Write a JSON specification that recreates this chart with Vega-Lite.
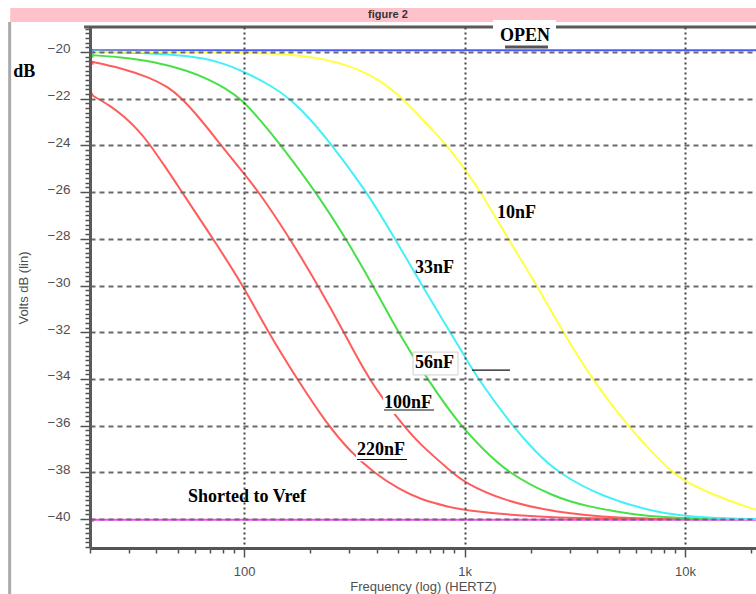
{
  "$schema": "https://vega.github.io/schema/vega-lite/v6.json",
  "width": 666,
  "height": 521,
  "autosize": {"type": "none"},
  "padding": {"left": 90, "top": 27, "right": 0, "bottom": 46},
  "background": "white",
  "config": {"view": {"stroke": null}},
  "datasets": {
    "curves": [
      {"series": "OPEN", "f": 20, "db": -19.93},
      {"series": "OPEN", "f": 21000, "db": -19.93},
      {"series": "Shorted", "f": 20, "db": -40.03},
      {"series": "Shorted", "f": 21000, "db": -40.03},
      {"series": "220nF", "f": 20, "db": -21.8},
      {"series": "220nF", "f": 24.7, "db": -22.3},
      {"series": "220nF", "f": 28.9, "db": -22.8},
      {"series": "220nF", "f": 33.1, "db": -23.35},
      {"series": "220nF", "f": 36.3, "db": -23.8},
      {"series": "220nF", "f": 43.8, "db": -24.9},
      {"series": "220nF", "f": 52.3, "db": -26.0},
      {"series": "220nF", "f": 72.3, "db": -28.0},
      {"series": "220nF", "f": 99, "db": -30.0},
      {"series": "220nF", "f": 128.5, "db": -32.0},
      {"series": "220nF", "f": 173.9, "db": -34.0},
      {"series": "220nF", "f": 240.4, "db": -36.0},
      {"series": "220nF", "f": 302.5, "db": -37.1},
      {"series": "220nF", "f": 384.6, "db": -38.0},
      {"series": "220nF", "f": 510, "db": -38.75},
      {"series": "220nF", "f": 628, "db": -39.15},
      {"series": "220nF", "f": 860, "db": -39.5},
      {"series": "220nF", "f": 1005, "db": -39.62},
      {"series": "220nF", "f": 1785, "db": -39.87},
      {"series": "220nF", "f": 3594, "db": -40.0},
      {"series": "220nF", "f": 21000, "db": -40.0},
      {"series": "100nF", "f": 20, "db": -20.4},
      {"series": "100nF", "f": 27.7, "db": -20.68},
      {"series": "100nF", "f": 37.5, "db": -21.1},
      {"series": "100nF", "f": 45.2, "db": -21.5},
      {"series": "100nF", "f": 51.8, "db": -21.95},
      {"series": "100nF", "f": 63.2, "db": -22.85},
      {"series": "100nF", "f": 78.7, "db": -24.0},
      {"series": "100nF", "f": 95.9, "db": -25.0},
      {"series": "100nF", "f": 117, "db": -26.0},
      {"series": "100nF", "f": 161.7, "db": -28.0},
      {"series": "100nF", "f": 216.6, "db": -30.0},
      {"series": "100nF", "f": 284.1, "db": -32.0},
      {"series": "100nF", "f": 365.1, "db": -34.0},
      {"series": "100nF", "f": 526, "db": -36.0},
      {"series": "100nF", "f": 628, "db": -36.8},
      {"series": "100nF", "f": 878, "db": -38.0},
      {"series": "100nF", "f": 1005, "db": -38.45},
      {"series": "100nF", "f": 1495, "db": -39.2},
      {"series": "100nF", "f": 2520, "db": -39.7},
      {"series": "100nF", "f": 5073, "db": -39.97},
      {"series": "100nF", "f": 9491, "db": -40.0},
      {"series": "100nF", "f": 21000, "db": -40.0},
      {"series": "56nF", "f": 20, "db": -20.13},
      {"series": "56nF", "f": 27.4, "db": -20.22},
      {"series": "56nF", "f": 39.5, "db": -20.42},
      {"series": "56nF", "f": 55.7, "db": -20.8},
      {"series": "56nF", "f": 70.1, "db": -21.2},
      {"series": "56nF", "f": 82, "db": -21.55},
      {"series": "56nF", "f": 96.9, "db": -22.0},
      {"series": "56nF", "f": 120.7, "db": -23.0},
      {"series": "56nF", "f": 147.2, "db": -24.0},
      {"series": "56nF", "f": 212.1, "db": -26.0},
      {"series": "56nF", "f": 290.1, "db": -28.0},
      {"series": "56nF", "f": 384.6, "db": -30.0},
      {"series": "56nF", "f": 499.4, "db": -32.0},
      {"series": "56nF", "f": 676, "db": -34.0},
      {"series": "56nF", "f": 954, "db": -36.0},
      {"series": "56nF", "f": 1213.5, "db": -37.0},
      {"series": "56nF", "f": 1558, "db": -38.0},
      {"series": "56nF", "f": 2520, "db": -39.04},
      {"series": "56nF", "f": 3594, "db": -39.47},
      {"series": "56nF", "f": 6058, "db": -39.83},
      {"series": "56nF", "f": 8551, "db": -39.95},
      {"series": "56nF", "f": 14413, "db": -40.0},
      {"series": "56nF", "f": 21000, "db": -40.0},
      {"series": "33nF", "f": 20, "db": -19.98},
      {"series": "33nF", "f": 33.8, "db": -20.04},
      {"series": "33nF", "f": 55.7, "db": -20.15},
      {"series": "33nF", "f": 77.8, "db": -20.42},
      {"series": "33nF", "f": 100, "db": -20.84},
      {"series": "33nF", "f": 135.3, "db": -21.49},
      {"series": "33nF", "f": 161.7, "db": -22.0},
      {"series": "33nF", "f": 203.4, "db": -22.95},
      {"series": "33nF", "f": 250.6, "db": -24.0},
      {"series": "33nF", "f": 361.3, "db": -26.0},
      {"series": "33nF", "f": 484, "db": -28.0},
      {"series": "33nF", "f": 641.6, "db": -30.0},
      {"series": "33nF", "f": 859.6, "db": -32.0},
      {"series": "33nF", "f": 1005, "db": -33.05},
      {"series": "33nF", "f": 1151.5, "db": -34.0},
      {"series": "33nF", "f": 1642, "db": -36.0},
      {"series": "33nF", "f": 2088, "db": -37.1},
      {"series": "33nF", "f": 2627, "db": -38.0},
      {"series": "33nF", "f": 4247, "db": -39.08},
      {"series": "33nF", "f": 7702, "db": -39.76},
      {"series": "33nF", "f": 10872, "db": -39.9},
      {"series": "33nF", "f": 15505, "db": -39.97},
      {"series": "33nF", "f": 21000, "db": -40.0},
      {"series": "10nF", "f": 20, "db": -19.99},
      {"series": "10nF", "f": 100, "db": -20.0},
      {"series": "10nF", "f": 193, "db": -20.13},
      {"series": "10nF", "f": 302.5, "db": -20.56},
      {"series": "10nF", "f": 413.8, "db": -21.2},
      {"series": "10nF", "f": 526, "db": -22.0},
      {"series": "10nF", "f": 662, "db": -23.0},
      {"series": "10nF", "f": 833, "db": -24.0},
      {"series": "10nF", "f": 974, "db": -24.85},
      {"series": "10nF", "f": 1188, "db": -26.0},
      {"series": "10nF", "f": 1575, "db": -28.0},
      {"series": "10nF", "f": 2132, "db": -30.0},
      {"series": "10nF", "f": 2797, "db": -32.0},
      {"series": "10nF", "f": 3786, "db": -34.0},
      {"series": "10nF", "f": 5458, "db": -36.0},
      {"series": "10nF", "f": 8643, "db": -38.0},
      {"series": "10nF", "f": 10210, "db": -38.45},
      {"series": "10nF", "f": 15505, "db": -39.2},
      {"series": "10nF", "f": 21000, "db": -39.6}
    ],
    "markers": [
      {"series": "OPEN", "f": 20.4, "db": -19.93},
      {"series": "33nF", "f": 20.4, "db": -19.98},
      {"series": "56nF", "f": 20.4, "db": -20.15},
      {"series": "100nF", "f": 20.4, "db": -20.45},
      {"series": "220nF", "f": 20.4, "db": -21.8},
      {"series": "Shorted", "f": 20.4, "db": -40.03}
    ],
    "labels": [
      {"text": "OPEN", "f": 1449, "db": -19.32},
      {"text": "10nF", "f": 1404, "db": -26.9},
      {"text": "33nF", "f": 596, "db": -29.25},
      {"text": "56nF", "f": 596, "db": -33.32},
      {"text": "100nF", "f": 431, "db": -35.03},
      {"text": "220nF", "f": 325, "db": -37.05},
      {"text": "Shorted to Vref", "f": 55.7, "db": -39.06},
      {"text": "dB", "f": 8.96, "db": -20.86}
    ],
    "boxes": [
      {"f": 1347, "f2": 2600, "db": -18.63, "db2": -19.62},
      {"f": 427, "f2": 735, "db": -34.69, "db2": -35.5},
      {"f": 322, "f2": 554, "db": -36.66, "db2": -37.52}
    ],
    "framedbox": [
      {"f": 584, "f2": 934, "db": -32.85, "db2": -33.83}
    ],
    "underlines": [
      {"f": 431.5, "f2": 727, "db": -35.33},
      {"f": 325, "f2": 548.6, "db": -37.45},
      {"f": 1081, "f2": 1607, "db": -33.62}
    ],
    "openbar": [{"f": 1527, "f2": 2391, "db": -19.79}],
    "band": [{"f": 8.69, "f2": 21000, "db": -18.116, "db2": -18.715}],
    "caption": [{"text": "figure 2", "f": 365, "db": -18.415}],
    "topframe": [{"f": 18.8, "f2": 21000, "db": -18.93}],
    "border": [{"f": 8.64, "db": -18.72, "db2": -43.3}]
  },
  "encoding": {
    "x": {
      "field": "f",
      "type": "quantitative",
      "scale": {"type": "log", "domain": [20, 21000], "nice": false},
      "axis": {
        "title": "Frequency (log) (HERTZ)",
        "values": [20, 30, 40, 50, 60, 70, 80, 90, 100, 200, 300, 400, 500, 600, 700, 800, 900, 1000, 2000, 3000, 4000, 5000, 6000, 7000, 8000, 9000, 10000, 20000],
        "labelExpr": "datum.value == 100 ? '100' : datum.value == 1000 ? '1k' : datum.value == 10000 ? '10k' : ''",
        "labelOverlap": false,
        "labelFlush": false,
        "labelBound": false,
        "labelFont": "Liberation Sans",
        "labelFontSize": 13,
        "labelColor": "#505050",
        "labelPadding": 8,
        "tickSize": {"condition": {"test": "datum.value == 100 || datum.value == 1000 || datum.value == 10000", "value": 9}, "value": 5},
        "tickColor": "#505050",
        "tickWidth": 1.5,
        "domainColor": "#555555",
        "domainWidth": 3,
        "grid": true,
        "gridOpacity": {"condition": {"test": "datum.value == 100 || datum.value == 1000 || datum.value == 10000", "value": 1}, "value": 0},
        "gridColor": "#444444",
        "gridDash": [2, 3],
        "gridWidth": 2,
        "titleFont": "Liberation Sans",
        "titleFontSize": 13,
        "titleFontWeight": "normal",
        "titleColor": "#505050",
        "titlePadding": 2,
        "zindex": 1
      }
    },
    "y": {
      "field": "db",
      "type": "quantitative",
      "scale": {"domain": [-41.24, -18.93], "nice": false, "zero": false},
      "axis": {
        "title": "Volts dB (lin)",
        "values": [-19, -19.2, -19.4, -19.6, -19.8, -20, -20.2, -20.4, -20.6, -20.8, -21, -21.2, -21.4, -21.6, -21.8, -22, -22.2, -22.4, -22.6, -22.8, -23, -23.2, -23.4, -23.6, -23.8, -24, -24.2, -24.4, -24.6, -24.8, -25, -25.2, -25.4, -25.6, -25.8, -26, -26.2, -26.4, -26.6, -26.8, -27, -27.2, -27.4, -27.6, -27.8, -28, -28.2, -28.4, -28.6, -28.8, -29, -29.2, -29.4, -29.6, -29.8, -30, -30.2, -30.4, -30.6, -30.8, -31, -31.2, -31.4, -31.6, -31.8, -32, -32.2, -32.4, -32.6, -32.8, -33, -33.2, -33.4, -33.6, -33.8, -34, -34.2, -34.4, -34.6, -34.8, -35, -35.2, -35.4, -35.6, -35.8, -36, -36.2, -36.4, -36.6, -36.8, -37, -37.2, -37.4, -37.6, -37.8, -38, -38.2, -38.4, -38.6, -38.8, -39, -39.2, -39.4, -39.6, -39.8, -40, -40.2, -40.4, -40.6, -40.8, -41, -41.2],
        "labelExpr": "abs(datum.value % 2) < 0.01 ? format(datum.value, 'd') : ''",
        "labelOverlap": false,
        "labelFlush": false,
        "labelBound": false,
        "labelOffset": -3,
        "labelFont": "Liberation Sans",
        "labelFontSize": 13.5,
        "labelColor": "#505050",
        "labelPadding": 10,
        "tickSize": {"condition": {"test": "abs(datum.value % 2) < 0.01", "value": 10}, "value": 5},
        "tickColor": "#505050",
        "tickWidth": 1.5,
        "domainColor": "#5a5a5a",
        "domainWidth": 3,
        "grid": true,
        "gridOpacity": {"condition": {"test": "abs(datum.value % 2) < 0.01", "value": 1}, "value": 0},
        "gridColor": "#6a6a6a",
        "gridDash": [5, 4],
        "gridWidth": 2,
        "titleFont": "Liberation Sans",
        "titleFontSize": 13,
        "titleFontWeight": "normal",
        "titleColor": "#505050",
        "titlePadding": 17,
        "zindex": 1
      }
    }
  },
  "layer": [
    {
      "data": {"name": "band"},
      "mark": {"type": "rect", "color": "#ffc2cb"},
      "encoding": {"x2": {"field": "f2"}, "y2": {"field": "db2"}}
    },
    {
      "data": {"name": "caption"},
      "mark": {"type": "text", "align": "left", "baseline": "middle", "font": "Liberation Sans", "fontWeight": "bold", "fontSize": 11, "color": "#333333"},
      "encoding": {"text": {"field": "text"}}
    },
    {
      "data": {"name": "border"},
      "mark": {"type": "rule", "color": "#aaaaaa", "strokeWidth": 3},
      "encoding": {"y2": {"field": "db2"}}
    },
    {
      "data": {"name": "topframe"},
      "mark": {"type": "rule", "color": "#5a5a5a", "strokeWidth": 3},
      "encoding": {"x2": {"field": "f2"}}
    },
    {
      "data": {"name": "curves"},
      "mark": {"type": "line", "strokeWidth": 2, "interpolate": "basis"},
      "encoding": {
        "color": {
          "field": "series",
          "type": "nominal",
          "scale": {
            "domain": ["Shorted", "OPEN", "10nF", "33nF", "56nF", "100nF", "220nF"],
            "range": ["#ff44ff", "#4a5aff", "#ffff44", "#44f0f8", "#48e048", "#ff5c5c", "#ff5c5c"]
          },
          "legend": null
        }
      }
    },
    {
      "data": {"name": "markers"},
      "mark": {"type": "point", "shape": "triangle-up", "filled": true, "size": 22, "opacity": 1},
      "encoding": {"color": {"field": "series", "type": "nominal", "legend": null}}
    },
    {
      "data": {"name": "boxes"},
      "mark": {"type": "rect", "color": "white"},
      "encoding": {"x2": {"field": "f2"}, "y2": {"field": "db2"}}
    },
    {
      "data": {"name": "framedbox"},
      "mark": {"type": "rect", "fill": "white", "stroke": "#d0d0d0", "strokeWidth": 1},
      "encoding": {"x2": {"field": "f2"}, "y2": {"field": "db2"}}
    },
    {
      "data": {"name": "openbar"},
      "mark": {"type": "rule", "color": "#555555", "strokeWidth": 3},
      "encoding": {"x2": {"field": "f2"}}
    },
    {
      "data": {"name": "underlines"},
      "mark": {"type": "rule", "color": "#111111", "strokeWidth": 1.2},
      "encoding": {"x2": {"field": "f2"}}
    },
    {
      "data": {"name": "labels"},
      "mark": {"type": "text", "align": "left", "baseline": "middle", "font": "Liberation Serif", "fontWeight": "bold", "fontSize": 18, "color": "black"},
      "encoding": {"text": {"field": "text"}}
    }
  ]
}
